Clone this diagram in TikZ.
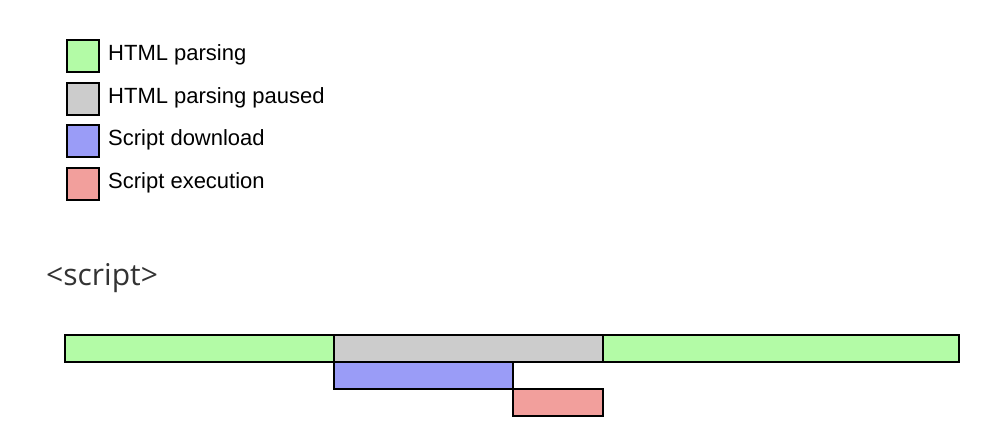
\documentclass[tikz,border=0pt]{standalone}
\usepackage{fontspec}
\setmainfont{Liberation Sans}
\newfontfamily\tagfont{Open Sans}
\definecolor{parsegreen}{HTML}{B3FBA6}
\definecolor{pausegray}{HTML}{CCCCCC}
\definecolor{dlblue}{HTML}{9A9CF7}
\definecolor{exred}{HTML}{F29F9C}
\definecolor{tagtext}{HTML}{333333}
\begin{document}
\begin{tikzpicture}[x=1pt,y=-1pt,
  seg/.style={draw=black,line width=2pt},
  legbox/.style={draw=black,line width=2pt,minimum width=32pt,minimum height=32pt,inner sep=0pt,anchor=north west},
  legtext/.style={anchor=west,font=\fontsize{22}{24}\selectfont,inner sep=0pt}]
\useasboundingbox (0,0) rectangle (994,445);
% legend
\node[legbox,fill=parsegreen] (l1) at (66,39) {};
\node[legbox,fill=pausegray] (l2) at (66,82) {};
\node[legbox,fill=dlblue] (l3) at (66,124) {};
\node[legbox,fill=exred] (l4) at (66,167) {};
\node[legtext] (t1) at (108,55) {HTML parsing};
\node[legtext] (t2) at (108,98) {HTML parsing paused};
\node[legtext] (t3) at (108,140) {Script download};
\node[legtext] (t4) at (108,183) {Script execution};
% tag
\node[anchor=west,inner sep=0pt,text=tagtext,font=\tagfont\fontsize{30}{33}\selectfont] (tag) at (46,278) {<script>};
% timeline
\draw[seg,fill=parsegreen] (65,335) rectangle (334,362);
\draw[seg,fill=pausegray] (334,335) rectangle (603,362);
\draw[seg,fill=parsegreen] (603,335) rectangle (959,362);
\draw[seg,fill=dlblue] (334,362) rectangle (513,389);
\draw[seg,fill=exred] (513,389) rectangle (603,416);
\end{tikzpicture}
\end{document}
